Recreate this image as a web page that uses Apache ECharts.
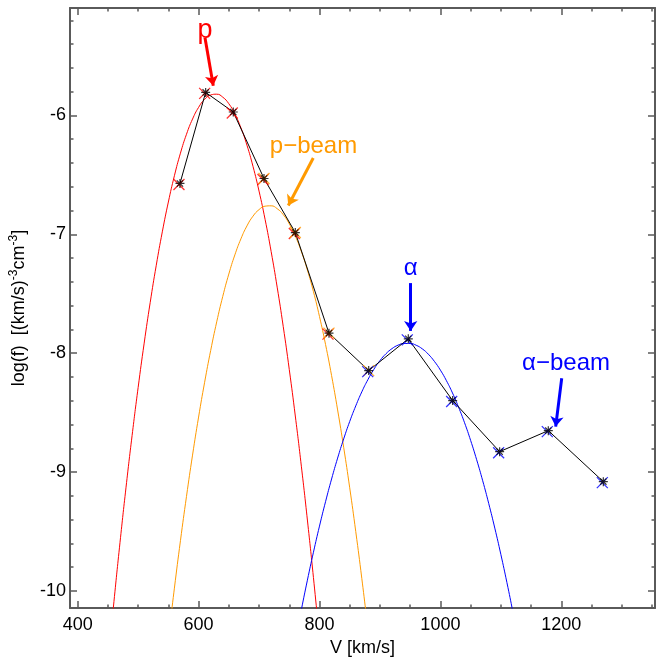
<!DOCTYPE html>
<html><head><meta charset="utf-8">
<script src="https://cdn.jsdelivr.net/npm/echarts@6/dist/echarts.min.js"></script>
<style>html,body{margin:0;padding:0;background:#fff}#c{width:658px;height:658px}</style>
</head><body><div id="c"></div>
<script>
// measured distribution (black asterisks)
const velocity = [569.2, 611.7, 657.4, 708.2, 760.0, 815.7, 881.4, 946.9, 1020.3, 1098.0, 1178.5, 1269.5];
const logF     = [-6.572, -5.806, -5.971, -6.530, -6.985, -7.831, -8.146, -7.879, -8.398, -8.828, -8.651, -9.080];
// which measured points carry a coloured component marker
const protonPointIdx = [0, 1, 2, 3, 4, 5];
const beamPointIdx   = [3, 4, 5, 6];
const alphaPointIdx  = [6, 7, 8, 9, 10, 11];

// fitted components, every 10 km/s
const protonFitV = [450, 460, 470, 480, 490, 500, 510, 520, 530, 540, 550, 560, 570, 580, 590, 600, 610, 620,
  630, 640, 650, 660, 670, 680, 690, 700, 710, 720, 730, 740, 750, 760, 770, 780, 790, 800];
const protonFitY = [-10.615, -10.089, -9.593, -9.127, -8.693, -8.289, -7.915, -7.572, -7.260, -6.979, -6.728, -6.507,
  -6.317, -6.158, -6.030, -5.932, -5.864, -5.828, -5.821, -5.846, -5.901, -5.987, -6.103, -6.250, -6.428, -6.636,
  -6.874, -7.144, -7.444, -7.774, -8.136, -8.528, -8.950, -9.403, -9.887, -10.401];
const beamFitV = [550, 560, 570, 580, 590, 600, 610, 620, 630, 640, 650, 660, 670, 680, 690, 700, 710, 720,
  730, 740, 750, 760, 770, 780, 790, 800, 810, 820, 830, 840, 850, 860, 870, 880];
const beamFitY = [-10.402, -9.976, -9.577, -9.204, -8.857, -8.537, -8.244, -7.977, -7.736, -7.522, -7.334, -7.173,
  -7.038, -6.929, -6.847, -6.792, -6.763, -6.760, -6.784, -6.834, -6.911, -7.014, -7.144, -7.300, -7.482, -7.691,
  -7.926, -8.188, -8.477, -8.791, -9.132, -9.500, -9.894, -10.315];
const alphaFitV = [760, 770, 780, 790, 800, 810, 820, 830, 840, 850, 860, 870, 880, 890, 900, 910, 920, 930, 940,
  950, 960, 970, 980, 990, 1000, 1010, 1020, 1030, 1040, 1050, 1060, 1070, 1080, 1090, 1100, 1110, 1120, 1130];
const alphaFitY = [-10.423, -10.158, -9.909, -9.674, -9.454, -9.249, -9.058, -8.882, -8.721, -8.574, -8.443, -8.325,
  -8.223, -8.135, -8.062, -8.004, -7.961, -7.932, -7.918, -7.918, -7.933, -7.963, -8.008, -8.068, -8.142, -8.231,
  -8.334, -8.453, -8.585, -8.733, -8.896, -9.073, -9.265, -9.471, -9.692, -9.928, -10.179, -10.444];

// ticks
const xMajorTicks = [400, 600, 800, 1000, 1200];
const xMinorTicks = [450, 500, 550, 650, 700, 750, 850, 900, 950, 1050, 1100, 1150, 1250, 1300, 1350];
const yMajorTicks = [-10, -9, -8, -7, -6];
const yMinorTicks = [-9.8, -9.6, -9.4, -9.2, -8.8, -8.6, -8.4, -8.2, -7.8, -7.6, -7.4, -7.2, -6.8, -6.6, -6.4, -6.2, -5.8, -5.6, -5.4, -5.2];
const xRange = [387.3, 1355];
const yRange = [-10.143, -5.096];

// annotation texts
const labelP = 'p', labelPBeam = 'p\u2212beam', labelAlpha = '\u03b1', labelAlphaBeam = '\u03b1\u2212beam';

const FONT = "'Liberation Sans', Arial, Helvetica, sans-serif";
const GRAY = '#5a5a5a';
const RED = '#ff0000', ORANGE = '#ff9a00', BLUE = '#0000ff';
const ASTER = 'path://M5,0L5,10M0,5L10,5M1.5,1.5L8.5,8.5M8.5,1.5L1.5,8.5';
const XMARK = 'path://M0,0L10,10M10,0L0,10';

const pairs = (xs, ys) => xs.map((x, i) => [x, ys[i]]);
const pick = idx => idx.map(i => [velocity[i], logF[i]]);

function axis(dim, pos, ticks, len, withLine, withLabels) {
  return {
    type: 'value', position: pos, min: dim === 'x' ? xRange[0] : yRange[0], max: dim === 'x' ? xRange[1] : yRange[1],
    axisLine: { show: withLine, onZero: false, lineStyle: { color: GRAY, width: 2 } },
    axisTick: { show: true, inside: true, length: len, customValues: ticks, lineStyle: { color: GRAY, width: 1.5 } },
    axisLabel: withLabels ? { show: true, customValues: ticks, color: '#000', fontSize: 18, fontFamily: FONT,
      margin: dim === 'x' ? 8 : 4, formatter: v => String(v) } : { show: false },
    splitLine: { show: false }, minorTick: { show: false }
  };
}

const xAxes = [
  axis('x', 'bottom', xMajorTicks, 7, true, true),
  axis('x', 'bottom', xMinorTicks, 3.5, false, false),
  axis('x', 'top', xMajorTicks, 7, true, false),
  axis('x', 'top', xMinorTicks, 3.5, false, false)
];
Object.assign(xAxes[0], { name: 'V [km/s]', nameLocation: 'middle', nameGap: 19,
  nameTextStyle: { color: '#000', fontSize: 18, fontFamily: FONT } });
const yAxes = [
  axis('y', 'left', yMajorTicks, 7, true, true),
  axis('y', 'left', yMinorTicks, 3.5, false, false),
  axis('y', 'right', yMajorTicks, 7, true, false),
  axis('y', 'right', yMinorTicks, 3.5, false, false)
];
Object.assign(yAxes[0], {
  name: '{t|log(f)  [(km/s)}{s|-3}{t|cm}{s|-3}{t|]}', nameLocation: 'middle', nameGap: 40, nameRotate: 90,
  nameTextStyle: { color: '#000', fontSize: 18, fontFamily: FONT,
    rich: { t: { fontSize: 18, lineHeight: 22, fontFamily: FONT, color: '#000' },
            s: { fontSize: 12, lineHeight: 12, verticalAlign: 'top', fontFamily: FONT, color: '#000' } } }
});

function arrows(color, list) {
  return { silent: true, symbol: ['none', 'arrow'], symbolSize: 10, label: { show: false },
    lineStyle: { color: color, width: 3, type: 'solid' }, emphasis: { disabled: true },
    data: list.map(a => [{ coord: a[0] }, { coord: a[1] }]) };
}
function tag(color, size, text, at) {
  return { name: text, coord: at, symbol: 'circle', symbolSize: 1, itemStyle: { color: 'rgba(0,0,0,0)' },
    label: { show: true, position: 'inside', formatter: '{b}', color: color, fontSize: size, fontFamily: FONT } };
}

const fitLine = (v, y, color, extra) => Object.assign({
  type: 'line', data: pairs(v, y), smooth: true, showSymbol: false, clip: true, z: 2, silent: true,
  lineStyle: { color: color, width: 1 }, emphasis: { disabled: true }
}, extra);

const option = {
  animation: false,
  backgroundColor: '#fff',
  grid: { left: 70, right: 3, top: 8, bottom: 50, containLabel: false, outerBoundsMode: 'none' },
  xAxis: xAxes,
  yAxis: yAxes,
  series: [
    fitLine(protonFitV, protonFitY, RED, {
      markLine: arrows(RED, [[[610.6, -5.346], [624.3, -5.750]]]),
      markPoint: { silent: true, data: [tag(RED, 27, labelP, [610.6, -5.283])] }
    }),
    fitLine(beamFitV, beamFitY, ORANGE, {
      markLine: arrows(ORANGE, [[[789.7, -6.358], [748.4, -6.757]]]),
      markPoint: { silent: true, data: [tag(ORANGE, 24, labelPBeam, [790.1, -6.262])] }
    }),
    fitLine(alphaFitV, alphaFitY, BLUE, {
      markLine: arrows(BLUE, [[[950.9, -7.410], [950.9, -7.812]], [[1200.7, -8.210], [1190.7, -8.617]]]),
      markPoint: { silent: true, data: [tag(BLUE, 24, labelAlpha, [951, -7.283]), tag(BLUE, 24, labelAlphaBeam, [1207.8, -8.089])] }
    }),
    { type: 'line', data: pairs(velocity, logF), showSymbol: false, z: 3, silent: true,
      lineStyle: { color: '#000', width: 1 }, emphasis: { disabled: true } },
    { type: 'scatter', data: pick(protonPointIdx), symbol: XMARK, symbolSize: 11, symbolOffset: [-1, 1], z: 4, silent: true,
      itemStyle: { color: 'rgba(0,0,0,0)', borderColor: RED, borderWidth: 1.3 }, emphasis: { disabled: true } },
    { type: 'scatter', data: pick(beamPointIdx), symbol: XMARK, symbolSize: 11, symbolOffset: [0, 0], z: 4, silent: true,
      itemStyle: { color: 'rgba(0,0,0,0)', borderColor: ORANGE, borderWidth: 1.3 }, emphasis: { disabled: true } },
    { type: 'scatter', data: pick(alphaPointIdx), symbol: XMARK, symbolSize: 11, symbolOffset: [-1, 1], z: 4, silent: true,
      itemStyle: { color: 'rgba(0,0,0,0)', borderColor: BLUE, borderWidth: 1.3 }, emphasis: { disabled: true } },
    { type: 'scatter', data: pairs(velocity, logF), symbol: ASTER, symbolSize: 9, z: 5, silent: true,
      itemStyle: { color: 'rgba(0,0,0,0)', borderColor: '#000', borderWidth: 1.2 }, emphasis: { disabled: true } }
  ]
};
const chart = echarts.init(document.getElementById('c'), null, { renderer: 'canvas' });
chart.setOption(option);
</script>
</body></html>
